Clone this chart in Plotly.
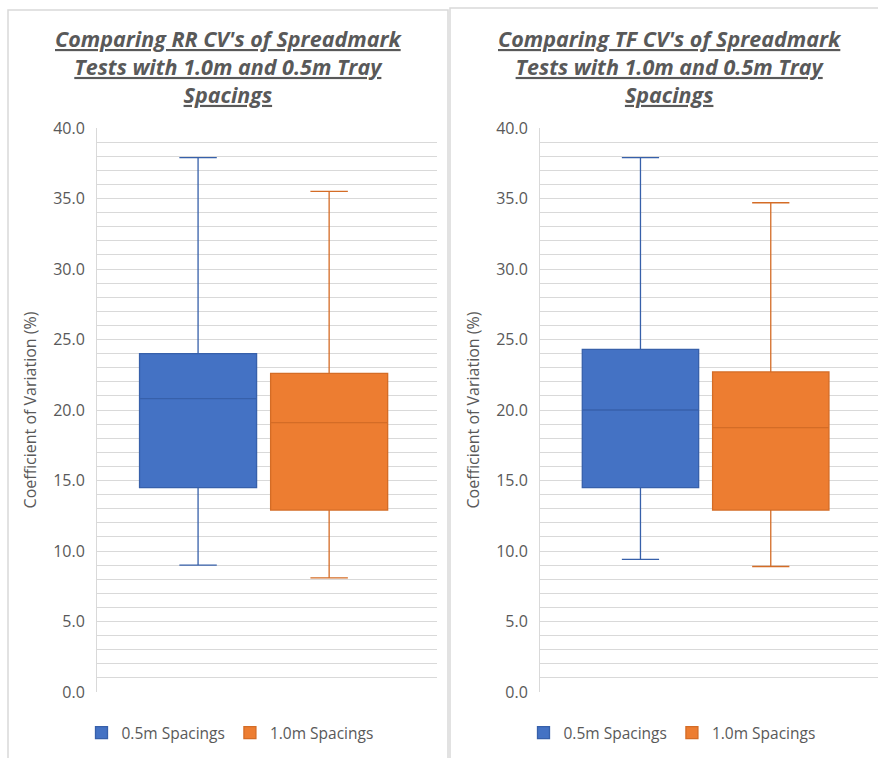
import plotly.graph_objects as go

W, H = 878, 758
MT, MB = 30, 60  # fixed margins, larger than any automatic push

# ---- data ----
category = ["Spacing"]
series_names = ["0.5m Spacings", "1.0m Spacings"]
# order: min, q1, median, q3, max
rr_05 = [9.0, 14.5, 20.8, 24.0, 37.9]
rr_10 = [8.1, 12.9, 19.1, 22.6, 35.5]
tf_05 = [9.4, 14.5, 20.0, 24.3, 37.9]
tf_10 = [8.9, 12.9, 18.75, 22.7, 34.7]
y_ticks = [0, 5, 10, 15, 20, 25, 30, 35, 40]

titles = [
    "Comparing RR CV's of Spreadmark<br>Tests with 1.0m and 0.5m Tray<br>Spacings",
    "Comparing TF CV's of Spreadmark<br>Tests with 1.0m and 0.5m Tray<br>Spacings",
]
y_title = "Coefficient of Variation (%)"

fills = ["#4472C4", "#ED7D31"]
lines = ["#3760AA", "#D46C26"]

FONT = "Open Sans"
GREY = "#595959"


def px_x(p):
    return p / W


def px_y(p):
    return (H - MB - p) / (H - MT - MB)


fig = go.Figure()

panels = [
    (rr_05, rr_10, "x", "y", "legend"),
    (tf_05, tf_10, "x2", "y2", "legend2"),
]
for (s05, s10, xa, ya, lg) in panels:
    for i, s in enumerate([s05, s10]):
        fig.add_trace(go.Box(
            x=category,
            lowerfence=[s[0]], q1=[s[1]], median=[s[2]], q3=[s[3]], upperfence=[s[4]],
            name=series_names[i],
            fillcolor=fills[i],
            line=dict(color=lines[i], width=1.3),
            whiskerwidth=0.32,
            boxpoints=False,
            xaxis=xa, yaxis=ya, legend=lg,
            offsetgroup=str(i),
        ))

yaxis_common = dict(
    range=[0, 40],
    tickvals=y_ticks,
    tickformat=".1f",
    tickfont=dict(family=FONT, size=16, color=GREY),
    showgrid=True, gridcolor="#D9D9D9", gridwidth=1,
    minor=dict(dtick=1, showgrid=True, gridcolor="#D9D9D9", gridwidth=1),
    showline=True, linecolor="#D9D9D9", linewidth=1,
    zeroline=False,
    ticks="",
    ticklabelstandoff=8,
    automargin=False,
    title=dict(text=y_title, font=dict(family=FONT, size=16, color=GREY), standoff=12),
)
xaxis_common = dict(
    type="category",
    range=[-0.49, 0.51],
    showticklabels=False,
    showgrid=False,
    showline=False,
    zeroline=False,
    ticks="",
    automargin=False,
)

legend_common = dict(orientation="h", xanchor="center", yanchor="middle",
                     font=dict(family=FONT, size=15.5, color=GREY),
                     bgcolor="rgba(0,0,0,0)", itemwidth=30)

fig.update_layout(
    width=W, height=H,
    autosize=False,
    margin=dict(l=0, r=0, t=MT, b=MB, pad=0),
    paper_bgcolor="white",
    plot_bgcolor="white",
    boxmode="group",
    boxgap=0.229,
    boxgroupgap=0.107,
    xaxis=dict(domain=[px_x(97), px_x(437)], anchor="y", **xaxis_common),
    yaxis=dict(domain=[px_y(692), px_y(128)], anchor="x", **yaxis_common),
    xaxis2=dict(domain=[px_x(540), 1.0], anchor="y2", **xaxis_common),
    yaxis2=dict(domain=[px_y(692), px_y(128)], anchor="x2", **yaxis_common),
    legend=dict(x=px_x(230), y=px_y(733), **legend_common),
    legend2=dict(x=px_x(672), y=px_y(733), **legend_common),
    showlegend=True,
)

# panel borders
fig.add_shape(type="rect", xref="paper", yref="paper",
              x0=px_x(8), x1=px_x(448), y0=px_y(770), y1=px_y(10),
              line=dict(color="#D9D9D9", width=1.5), fillcolor="rgba(0,0,0,0)", layer="below")
fig.add_shape(type="rect", xref="paper", yref="paper",
              x0=px_x(450), x1=px_x(890), y0=px_y(770), y1=px_y(8),
              line=dict(color="#D9D9D9", width=1.5), fillcolor="rgba(0,0,0,0)", layer="below")

# titles
for t, cx in zip(titles, [228, 670]):
    fig.add_annotation(
        text="<b><i><u>" + t.replace("<br>", "</u></i></b><br><b><i><u>") + "</u></i></b>",
        xref="paper", yref="paper", x=px_x(cx), y=px_y(67),
        xanchor="center", yanchor="middle", showarrow=False,
        font=dict(family=FONT, size=21.5, color=GREY), align="center",
    )

fig.write_html(
    "out.html",
    config={"responsive": False, "displayModeBar": False},
    post_script="document.body.style.margin='0';document.body.style.padding='0';"
                "document.documentElement.style.overflow='hidden';",
)
